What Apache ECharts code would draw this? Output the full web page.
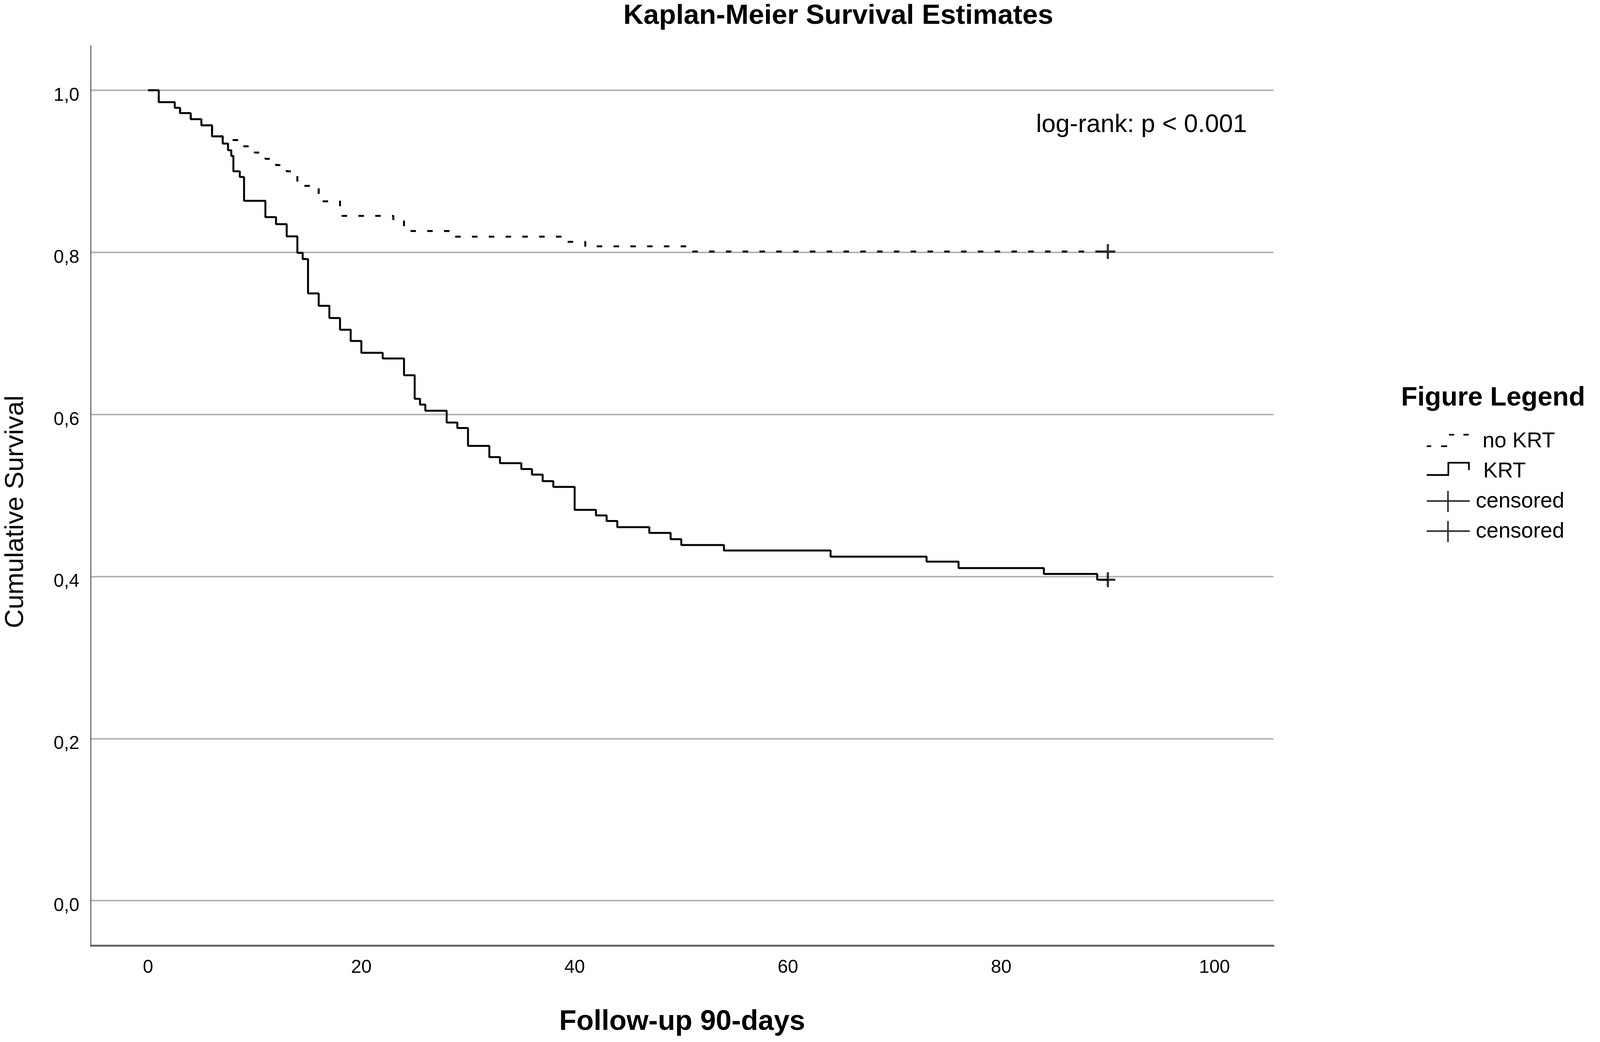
<!DOCTYPE html>
<html>
<head>
<meta charset="utf-8">
<script src="https://cdn.jsdelivr.net/npm/echarts@6/dist/echarts.min.js"></script>
<style>html,body{margin:0;padding:0;background:#fff;overflow:hidden}#c{width:100vw;height:100vh}</style>
</head>
<body>
<div id="c"></div>
<script>
// ---- data ----
const krtTime = [0,1,2.5,3,4,5,6,7,7.5,7.8,8,8.6,9,11,12,13,14,14.5,15,16,17,18,19,20,22,24,25,25.5,26,28,29,30,32,33,35,36,37,38,40,42,43,44,47,49,50,54,64,73,76,84,89,90];
const krtSurv = [1.0,0.9853,0.9783,0.9718,0.9643,0.9568,0.9432,0.9342,0.926,0.919,0.900,0.893,0.8636,0.8434,0.8348,0.8197,0.7993,0.7917,0.7493,0.734,0.7189,0.7045,0.6906,0.676,0.669,0.6483,0.6192,0.6122,0.6046,0.590,0.5832,0.5611,0.5473,0.5398,0.5326,0.5257,0.5176,0.5105,0.4822,0.4753,0.4684,0.4609,0.4537,0.446,0.4388,0.4321,0.4245,0.4183,0.4104,0.4031,0.396,0.396];
const noKrtTime = [0,1,2.5,3,4,5,6,7,9,10,11,12,13,14,16,18,23,24,28.5,39,41,51,90];
const noKrtSurv = [1.0,0.9853,0.9783,0.9718,0.9643,0.9568,0.9432,0.9385,0.9308,0.9231,0.9154,0.9077,0.900,0.882,0.863,0.845,0.8385,0.8263,0.8193,0.813,0.8074,0.801,0.801];
const censorNoKrt = [[90, 0.801]];
const censorKrt = [[90, 0.396]];
const xTicks = [0,20,40,60,80,100];
const yTicks = [0,0.2,0.4,0.6,0.8,1.0];
const seriesNames = ['no KRT','KRT','censored_1','censored_2'];

// layout is designed for 4312x2667 and follows the real window size
const W = window.innerWidth || 4312, H = window.innerHeight || 2667;
const sx = W / 4312, sy = H / 2667, sf = Math.min(sx, sy);
const X = v => v * sx, Y = v => v * sy, F = v => v * sf;

const FF = "'Liberation Sans', Arial, sans-serif";
const zip = (a, b) => a.map((v, i) => [v, b[i]]);

const ICON_NO = 'path://M0,0h0.3v0.3h-0.3z M115.7,56.7h0.3v0.3h-0.3z M0,39.5h12v4.5h-12z M39,39.5h16v4.5h-16z M60,8.5h14v4.5h-14z M99,8.5h14v4.5h-14z';
const ICON_KRT = 'path://M0,0h0.3v0.3h-0.3z M115.7,56.7h0.3v0.3h-0.3z M0,36h60v4.5h-60z M56,3h4.5v37.5h-4.5z M56,3h60v4.5h-60z M111.5,3h4.5v22h-4.5z';
const ICON_CENS = 'path://M0,25h116v4.5h-116z M55,0h4.5v57h-4.5z';
const PLUS = 'path://M0,17h40v6h-40z M17,0h6v40h-6z';

const chart = echarts.init(document.getElementById('c'), null, { width: W, height: H });
chart.setOption({
  animation: false,
  backgroundColor: '#fff',
  textStyle: { fontFamily: FF },
  title: [
    { text: 'Kaplan-Meier Survival Estimates', left: X(1680), top: Y(6), padding: 0,
      textStyle: { fontSize: F(75), fontWeight: 'bold', color: '#000', fontFamily: FF, lineHeight: F(75) } },
    { text: 'Figure Legend', left: X(3776), top: Y(985), padding: 0,
      textStyle: { fontSize: F(72), fontWeight: 'bold', color: '#000', fontFamily: FF, lineHeight: F(72) } }
  ],
  grid: { left: X(245), right: X(880), top: Y(117), bottom: Y(247), containLabel: false, outerBoundsMode: 'none' },
  xAxis: {
    type: 'value', min: -5.36, max: 105.53,
    axisLine: { show: true, onZero: false, lineStyle: { color: '#666', width: 5 } },
    axisTick: { show: false, customValues: xTicks },
    axisLabel: { customValues: xTicks, fontSize: F(50), color: '#000', margin: Y(33), lineHeight: F(50), fontFamily: FF },
    splitLine: { show: false },
    name: 'Follow-up 90-days', nameLocation: 'middle', nameGap: Y(160),
    nameTextStyle: { fontSize: F(76), fontWeight: 'bold', color: '#000', lineHeight: F(76), fontFamily: FF }
  },
  yAxis: {
    type: 'value', min: -0.0554, max: 1.055,
    axisLine: { show: true, onZero: false, lineStyle: { color: '#555', width: 2.5 } },
    axisTick: { show: false, customValues: yTicks },
    axisLabel: { customValues: yTicks, fontSize: F(50), color: '#000', margin: X(31), verticalAlign: 'top', lineHeight: F(29), fontFamily: FF,
      formatter: v => Number(v).toFixed(1).replace('.', ',') },
    splitLine: { show: true, lineStyle: { color: '#b4b4b4', width: 4 } },
    name: 'Cumulative Survival', nameLocation: 'middle', nameGap: X(167),
    nameTextStyle: { fontSize: F(71), color: '#000', lineHeight: F(71), padding: [0, Y(83), 0, 0], fontFamily: FF }
  },
  legend: {
    orient: 'vertical', left: X(3845), top: Y(1102), padding: 0, itemGap: Y(22),
    itemWidth: X(116), itemHeight: Y(57), selectedMode: false,
    textStyle: { fontSize: F(58), color: '#000', fontFamily: FF },
    formatter: n => n.indexOf('censored') === 0 ? 'censored' : n,
    data: [
      { name: seriesNames[0], icon: ICON_NO, itemStyle: { color: '#000', borderWidth: 0 }, textStyle: { padding: [0, 0, 0, X(29)] } },
      { name: seriesNames[1], icon: ICON_KRT, itemStyle: { color: '#000', borderWidth: 0 }, textStyle: { padding: [0, 0, 0, X(31)] } },
      { name: seriesNames[2], icon: ICON_CENS, itemStyle: { color: '#000', borderWidth: 0 }, textStyle: { padding: [0, 0, 0, X(11)] } },
      { name: seriesNames[3], icon: ICON_CENS, itemStyle: { color: '#000', borderWidth: 0 }, textStyle: { padding: [0, 0, 0, X(11)] } }
    ]
  },
  graphic: [
    { type: 'text', x: X(2792), y: Y(320), z: 10,
      style: { text: 'log-rank: p < 0.001', fontSize: F(68), fontFamily: FF, fill: '#000', align: 'left', verticalAlign: 'middle', textVerticalAlign: 'middle' } }
  ],
  series: [
    { name: seriesNames[0], type: 'line', step: 'end', showSymbol: false, z: 2,
      data: zip(noKrtTime, noKrtSurv),
      itemStyle: { color: '#000' },
      lineStyle: { color: '#000', width: 5, type: [14, 29] } },
    { name: seriesNames[1], type: 'line', step: 'end', showSymbol: false, z: 3,
      data: zip(krtTime, krtSurv),
      itemStyle: { color: '#000' },
      lineStyle: { color: '#000', width: 5 } },
    { name: seriesNames[2], type: 'scatter', symbol: PLUS, symbolSize: F(40), z: 4,
      data: censorNoKrt, itemStyle: { color: '#000' } },
    { name: seriesNames[3], type: 'scatter', symbol: PLUS, symbolSize: F(40), z: 4,
      data: censorKrt, itemStyle: { color: '#000' } }
  ]
});
</script>
</body>
</html>
